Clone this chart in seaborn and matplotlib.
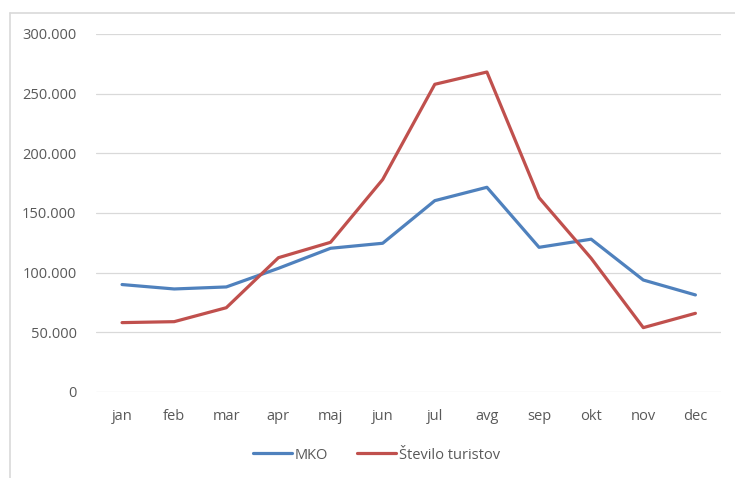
import numpy as np
import pandas as pd
import seaborn as sns
import matplotlib.pyplot as plt
from matplotlib.ticker import FuncFormatter
from matplotlib.lines import Line2D

# Monthly values
months = ['jan', 'feb', 'mar', 'apr', 'maj', 'jun', 'jul', 'avg', 'sep', 'okt', 'nov', 'dec']
mko = [90000, 86300, 88000, 103600, 120400, 124600, 160300, 171500, 121200, 128000, 93800, 81300]
turisti = [58100, 58900, 70600, 112500, 125400, 178000, 257800, 268100, 162800, 112000, 53900, 65900]
series_names = ['MKO', 'Število turistov']
colors = ['#4F81BD', '#C0504D']

df = pd.DataFrame({
    'mesec': months * 2,
    'vrednost': mko + turisti,
    'serija': [series_names[0]] * len(months) + [series_names[1]] * len(months),
})

sns.set_theme(style='white')
plt.rcParams['font.family'] = ['Open Sans', 'DejaVu Sans']

fig = plt.figure(figsize=(7.35, 4.78), dpi=100)
ax = fig.add_axes([0.1306, 0.18, 0.851, 0.749])

sns.lineplot(data=df, x='mesec', y='vrednost', hue='serija', palette=colors,
             linewidth=2.3, sort=False, ax=ax, legend=True)

ax.set_ylim(0, 300000)
ax.set_yticks(np.arange(0, 300001, 50000))
ax.yaxis.set_major_formatter(FuncFormatter(lambda v, p: '0' if v == 0 else f'{int(v):,}'.replace(',', '.')))
ax.set_xlim(-0.5, len(months) - 0.5)
ax.grid(axis='y', color='#D9D9D9', linewidth=0.9)
ax.grid(axis='x', visible=False)
for s in ax.spines.values():
    s.set_visible(False)
ax.tick_params(axis='both', colors='#595959', labelsize=10.5, length=0)
ax.tick_params(axis='x', pad=12)
ax.tick_params(axis='y', pad=14)
ax.set_xlabel('')
ax.set_ylabel('')

handles, labels = ax.get_legend_handles_labels()
ax.get_legend().remove()
leg = fig.legend(handles, labels, loc='center', bbox_to_anchor=(0.512, 0.048), ncol=2,
                 frameon=False, handlelength=2.7, handletextpad=0.15, columnspacing=2.0,
                 fontsize=10.5)
for t in leg.get_texts():
    t.set_color('#595959')

# chart border: only top and left edges fall inside the picture
fig.add_artist(Line2D([10 / 735, 1.0], [1 - 13 / 478, 1 - 13 / 478], transform=fig.transFigure,
                      color='#D9D9D9', linewidth=1.2))
fig.add_artist(Line2D([10 / 735, 10 / 735], [0.0, 1 - 13 / 478], transform=fig.transFigure,
                      color='#D9D9D9', linewidth=1.2))

fig.savefig('out.png', dpi=100)
